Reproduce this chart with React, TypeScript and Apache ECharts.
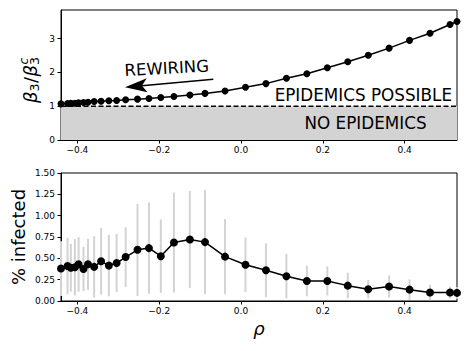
import React, { useEffect, useRef } from "react";
import * as echarts from "echarts";

// assortativity rho of each network (x values, shared by both panels)
const rho = [
  -0.44, -0.424, -0.416, -0.406, -0.397, -0.385, -0.374, -0.359, -0.342, -0.323,
  -0.304, -0.282, -0.253, -0.225, -0.196, -0.164, -0.125, -0.088, -0.039, 0.011,
  0.061, 0.111, 0.161, 0.211, 0.261, 0.311, 0.362, 0.412, 0.462, 0.511, 0.528,
];
// top panel: beta3 / beta3^c
const thresholdRatio = [
  1.07, 1.08, 1.085, 1.09, 1.1, 1.11, 1.12, 1.14, 1.15, 1.16,
  1.17, 1.19, 1.21, 1.23, 1.26, 1.29, 1.33, 1.38, 1.45, 1.56,
  1.67, 1.83, 1.96, 2.14, 2.32, 2.51, 2.72, 2.95, 3.16, 3.42, 3.51,
];
// bottom panel: % infected mean and error (std)
const infectedMean = [
  0.38, 0.41, 0.39, 0.395, 0.43, 0.375, 0.43, 0.4, 0.465, 0.415,
  0.445, 0.515, 0.6, 0.62, 0.525, 0.685, 0.72, 0.69, 0.52, 0.425,
  0.36, 0.29, 0.235, 0.235, 0.18, 0.137, 0.17, 0.133, 0.1, 0.1, 0.095,
];
const infectedErr = [
  0.32, 0.33, 0.28, 0.33, 0.32, 0.26, 0.3, 0.36, 0.39, 0.36,
  0.34, 0.35, 0.54, 0.535, 0.43, 0.585, 0.57, 0.61, 0.44, 0.32,
  0.315, 0.26, 0.18, 0.17, 0.15, 0.11, 0.13, 0.12, 0.09, 0.07, 0.07,
];
const rhoTicks = [-0.4, -0.2, 0, 0.2, 0.4];
const ratioTicks = [0, 1, 2, 3];
const threshold = 1;
const X_MIN = -0.44;
const X_MAX = 0.528;
const RATIO_MAX = 3.85;
const INF_MAX = 1.5;

const FONT = "DejaVu Sans";

const fmtRho = (v: number) => {
  const s = Math.abs(v).toFixed(1);
  return v < -1e-9 ? "\u2212" + s : s;
};

function xAxisCfg(gridIndex: number) {
  return {
    type: "value",
    gridIndex,
    min: X_MIN,
    max: X_MAX,
    axisLine: { show: true, onZero: false, lineStyle: { color: "#000", width: 1 } },
    axisTick: { show: true, length: 3.5, customValues: rhoTicks, lineStyle: { color: "#000", width: 1 } },
    axisLabel: {
      customValues: rhoTicks,
      formatter: fmtRho,
      fontSize: 9,
      color: "#000",
      margin: 5,
      fontFamily: FONT,
    },
    splitLine: { show: false },
  };
}

export default function App() {
  const ref = useRef<HTMLDivElement>(null);
  useEffect(() => {
    document.body.style.margin = "0";
    const chart = echarts.init(ref.current!, null, { renderer: "svg" });
    const topData = rho.map((x, i) => [x, thresholdRatio[i]]);
    const botData = rho.map((x, i) => [x, infectedMean[i]]);
    const errData = rho.map((x, i) => [x, infectedMean[i] - infectedErr[i], infectedMean[i] + infectedErr[i]]);

    const option: any = {
      animation: false,
      textStyle: { fontFamily: FONT },
      grid: [
        { left: 61, top: 10, width: 396, height: 130, show: true, borderColor: "#000", borderWidth: 1, backgroundColor: "transparent" },
        { left: 61, top: 173, width: 396, height: 128, show: true, borderColor: "#000", borderWidth: 1, backgroundColor: "transparent" },
      ],
      xAxis: [xAxisCfg(0), xAxisCfg(1)],
      yAxis: [
        {
          type: "value",
          gridIndex: 0,
          min: 0,
          max: RATIO_MAX,
          axisLine: { show: true, onZero: false, lineStyle: { color: "#000", width: 1 } },
          axisTick: { show: true, length: 3.5, customValues: ratioTicks, lineStyle: { color: "#000" } },
          axisLabel: { customValues: ratioTicks, fontSize: 9, color: "#000", margin: 6, fontFamily: FONT },
          splitLine: { show: false },
        },
        {
          type: "value",
          gridIndex: 1,
          min: 0,
          max: INF_MAX,
          interval: 0.25,
          axisLine: { show: true, onZero: false, lineStyle: { color: "#000", width: 1 } },
          axisTick: { show: true, length: 3.5, lineStyle: { color: "#000" } },
          axisLabel: {
            formatter: (v: number) => v.toFixed(2),
            fontSize: 9,
            color: "#000",
            margin: 6,
            fontFamily: FONT,
          },
          splitLine: { show: false },
        },
      ],
      series: [
        {
          type: "line",
          xAxisIndex: 0,
          yAxisIndex: 0,
          data: [[X_MIN, threshold], [X_MAX, threshold]],
          showSymbol: false,
          symbol: "none",
          lineStyle: { color: "#000", width: 1.5, type: [5, 2.5] },
          areaStyle: { color: "#d3d3d3", opacity: 1 },
          z: 1,
        },
        {
          type: "line",
          xAxisIndex: 0,
          yAxisIndex: 0,
          data: topData,
          symbol: "circle",
          symbolSize: 7,
          itemStyle: { color: "#000" },
          lineStyle: { color: "#000", width: 1.5 },
          z: 3,
        },
        {
          type: "custom",
          xAxisIndex: 1,
          yAxisIndex: 1,
          data: errData,
          encode: { x: 0, y: [1, 2] },
          renderItem: (params: any, api: any) => {
            const p1 = api.coord([api.value(0), api.value(1)]);
            const p2 = api.coord([api.value(0), api.value(2)]);
            return {
              type: "line",
              shape: { x1: p1[0], y1: p1[1], x2: p2[0], y2: p2[1] },
              style: { stroke: "#d3d3d3", lineWidth: 2 },
            };
          },
          z: 1,
        },
        {
          type: "line",
          xAxisIndex: 1,
          yAxisIndex: 1,
          data: botData,
          symbol: "circle",
          symbolSize: 8,
          itemStyle: { color: "#000" },
          lineStyle: { color: "#000", width: 1.5 },
          z: 3,
        },
      ],
      graphic: [
        {
          type: "text",
          x: 166.7,
          y: 68.3,
          rotation: 0.054,
          style: { text: "REWIRING", font: `16.5px '${FONT}'`, fill: "#000", align: "center", verticalAlign: "middle" },
        },
        {
          type: "line",
          shape: { x1: 213.3, y1: 79.3, x2: 142, y2: 85.7 },
          style: { stroke: "#000", lineWidth: 1.5 },
        },
        {
          type: "polygon",
          shape: { points: [[125, 87.3], [146.8, 78.3], [141.9, 85.8], [147.5, 92.3]] },
          style: { fill: "#000" },
        },
        {
          type: "text",
          x: 452,
          y: 95,
          style: { text: "EPIDEMICS POSSIBLE", font: `16.8px '${FONT}'`, fill: "#000", align: "right", verticalAlign: "middle" },
          z: 10,
        },
        {
          type: "text",
          x: 365.5,
          y: 123,
          style: { text: "NO EPIDEMICS", font: `16.8px '${FONT}'`, fill: "#000", align: "center", verticalAlign: "middle" },
          z: 10,
        },
        {
          type: "text",
          x: 18.5,
          y: 237,
          rotation: Math.PI / 2,
          style: { text: "% infected", font: `18px '${FONT}'`, fill: "#000", align: "center", verticalAlign: "middle" },
        },
        {
          type: "text",
          x: 259,
          y: 328,
          style: { text: "ρ", font: `italic 18px '${FONT}'`, fill: "#000", align: "center", verticalAlign: "middle" },
        },
        {
          type: "group",
          x: 30,
          y: 78,
          rotation: Math.PI / 2,
          children: [
            { type: "text", x: -25, y: 0, style: { text: "β", font: `italic 18px '${FONT}'`, fill: "#000", align: "left", verticalAlign: "middle" } },
            { type: "text", x: -13.5, y: 4.5, style: { text: "3", font: `12.6px '${FONT}'`, fill: "#000", align: "left", verticalAlign: "middle" } },
            { type: "text", x: -5, y: 0, style: { text: "/", font: `18px '${FONT}'`, fill: "#000", align: "left", verticalAlign: "middle" } },
            { type: "text", x: 1.5, y: 0, style: { text: "β", font: `italic 18px '${FONT}'`, fill: "#000", align: "left", verticalAlign: "middle" } },
            { type: "text", x: 13, y: 4.5, style: { text: "3", font: `12.6px '${FONT}'`, fill: "#000", align: "left", verticalAlign: "middle" } },
            { type: "text", x: 13.5, y: -6, style: { text: "c", font: `italic 12px '${FONT}'`, fill: "#000", align: "left", verticalAlign: "middle" } },
          ],
        },
      ],
    };
    chart.setOption(option);
    return () => chart.dispose();
  }, []);
  return <div ref={ref} style={{ width: 469, height: 351 }} />;
}
